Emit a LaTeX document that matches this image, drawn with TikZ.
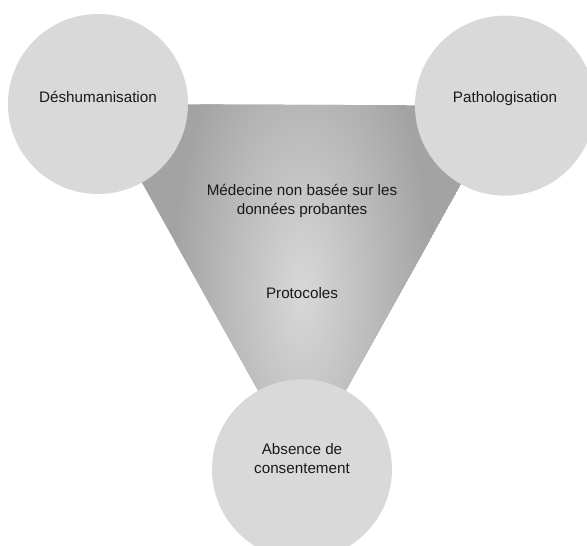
\documentclass[tikz,border=0pt]{standalone}
\usepackage{fontspec}
\setmainfont{Liberation Sans}
\definecolor{bubble}{HTML}{D9D9D9}
\definecolor{funneldark}{HTML}{A3A3A3}
\definecolor{funnellight}{HTML}{D8D8D8}

\begin{document}
\begin{tikzpicture}[
    every node/.style={font=\fontsize{13}{16}\selectfont, text=black!90, align=center},
    theme/.style={shape=circle, fill=bubble, minimum size=5.4cm, inner sep=0pt}]
     \clip (0,0) rectangle (17.61,16.38);

     \coordinate (dc) at (2.94,13.26);
     \coordinate (pc) at (15.15,13.21);
     \coordinate (ac) at (9.06,2.30);

     % shaded triangle behind the circles
     \begin{scope}
       \clip (dc) -- (pc) -- (ac) -- cycle;
       \fill[funneldark] (dc) -- (pc) -- (ac) -- cycle;
       \shade[inner color=funnellight, outer color=funneldark] (9.06,7.6) ellipse (3.9 and 9);
     \end{scope}

     \node[theme, label={[yshift=6pt]center:Déshumanisation}] (d) at (dc) {};
     \node[theme, label={[yshift=6pt]center:Pathologisation}] (p) at (pc) {};
     \node[theme, label={[yshift=9pt]center:Absence de\\consentement}] (a) at (ac) {};

     \node (m) at (9.06,10.35) {Médecine non basée sur les\\données probantes};
     \node (r) at (9.06,7.59)  {Protocoles};
\end{tikzpicture}
\end{document}
